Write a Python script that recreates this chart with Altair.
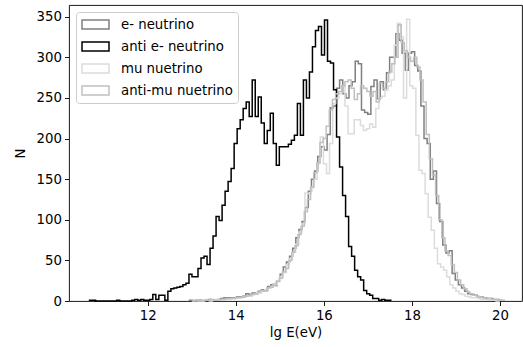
import altair as alt
import numpy as np
import pandas as pd

# ---- data ----
series_names = ["e- neutrino", "anti e- neutrino", "\u00a0mu nuetrino", "\u00a0anti-mu nuetrino"]
series_colors = ["#808080", "#000000", "#dcdcdc", "#c0c0c0"]

# histogram ranges (lg E) and 100-bin counts for each series
e_range = [12.95, 20.05]
e_counts = [1, 0, 1, 1, 0, 1, 2, 1, 1, 2,
            3, 4, 4, 4, 4, 5, 5, 6, 9, 8,
            10, 9, 12, 14, 13, 18, 20, 19, 25, 33,
            42, 48, 55, 65, 78, 88, 98, 115, 135, 150,
            160, 178, 190, 186, 205, 238, 240, 262, 272, 255,
            250, 265, 270, 295, 292, 235, 232, 230, 264, 272,
            249, 270, 260, 281, 300, 300, 329, 321, 305, 284,
            305, 307, 290, 283, 240, 200, 194, 150, 160, 120,
            98, 69, 59, 62, 34, 26, 20, 16, 12, 9,
            8, 7, 5, 5, 4, 3, 3, 2, 2, 1]

anti_e_range = [10.68, 17.52]
anti_e_counts = [1, 1, 0, 0, 0, 0, 0, 0, 0, 1,
                 0, 0, 0, 0, 1, 2, 1, 2, 1, 1,
                 2, 8, 2, 7, 7, 1, 12, 15, 16, 17,
                 18, 20, 22, 33, 30, 30, 40, 53, 55, 45,
                 65, 80, 104, 99, 118, 135, 147, 163, 194, 212,
                 223, 237, 245, 227, 272, 227, 251, 219, 194, 210,
                 231, 194, 167, 190, 190, 190, 193, 198, 204, 243,
                 204, 272, 250, 282, 313, 333, 338, 303, 346, 295,
                 293, 260, 202, 165, 130, 104, 67, 55, 38, 30,
                 26, 13, 9, 7, 3, 3, 1, 2, 1, 1]

mu_range = [13.05, 20.05]
mu_counts = [1, 0, 0, 1, 1, 0, 1, 2, 1, 2,
             2, 2, 3, 3, 4, 4, 5, 6, 6, 8,
             9, 10, 12, 14, 16, 18, 20, 25, 30, 35,
             45, 52, 60, 70, 85, 95, 133, 132, 140, 150,
             170, 202, 169, 157, 194, 243, 250, 255, 265, 240,
             206, 206, 223, 223, 216, 210, 212, 218, 214, 237,
             250, 252, 260, 265, 272, 315, 342, 325, 250, 347,
             265, 262, 204, 161, 157, 132, 103, 87, 65, 46,
             42, 38, 30, 20, 16, 12, 9, 8, 6, 5,
             4, 4, 3, 2, 2, 1, 1, 1, 0, 1]

anti_mu_range = [13.0, 20.1]
anti_mu_counts = [0, 1, 1, 0, 1, 1, 2, 1, 1, 2,
                  2, 3, 3, 3, 4, 4, 5, 6, 7, 8,
                  9, 11, 13, 12, 16, 17, 21, 24, 28, 36,
                  40, 50, 60, 68, 82, 92, 110, 125, 140, 158,
                  170, 195, 200, 215, 235, 248, 255, 258, 265, 270,
                  272, 262, 248, 255, 265, 262, 258, 252, 258, 245,
                  268, 262, 270, 282, 292, 300, 340, 318, 308, 300,
                  295, 300, 288, 272, 245, 205, 175, 155, 130, 100,
                  78, 62, 56, 45, 35, 26, 20, 15, 11, 9,
                  7, 6, 5, 4, 3, 3, 2, 2, 1, 1]

x_ticks = [12, 14, 16, 18, 20]
y_ticks = [0, 50, 100, 150, 200, 250, 300, 350]

hists = [(e_range, e_counts), (anti_e_range, anti_e_counts),
         (mu_range, mu_counts), (anti_mu_range, anti_mu_counts)]


def step_outline(name, rng, counts):
    edges = np.linspace(rng[0], rng[1], len(counts) + 1)
    rows = [{"series": name, "k": 0, "x": edges[0], "y": 0}]
    k = 1
    for i, c in enumerate(counts):
        rows.append({"series": name, "k": k, "x": edges[i], "y": c}); k += 1
        rows.append({"series": name, "k": k, "x": edges[i + 1], "y": c}); k += 1
    rows.append({"series": name, "k": k, "x": edges[-1], "y": 0})
    return pd.DataFrame(rows)


FS = 13.3

legend = alt.Legend(
    title=None, orient="top-left", offset=7, padding=5,
    symbolType="M-1,-0.692H3.154V0.692H-1Z", symbolSize=169,
    symbolStrokeWidth=1.5, symbolFillColor="transparent", symbolOffset=0,
    labelOffset=25, labelFont="DejaVu Sans", labelFontSize=FS, labelColor="black",
    rowPadding=7, fillColor="rgba(255,255,255,0.8)", strokeColor="#cccccc",
    cornerRadius=3, labelLimit=300,
)

xscale = alt.Scale(domain=[10.213, 20.50], nice=False, zero=False)
yscale = alt.Scale(domain=[0, 364.4], nice=False)
cscale = alt.Scale(domain=series_names, range=series_colors)

layers = []
for name, (rng, counts) in zip(series_names, hists):
    df = step_outline(name, rng, counts)
    layers.append(
        alt.Chart(df).mark_line(strokeWidth=1.5, strokeJoin="miter").encode(
            x=alt.X("x:Q", scale=xscale,
                    axis=alt.Axis(values=x_ticks, format="d", title="lg E(eV)")),
            y=alt.Y("y:Q", scale=yscale,
                    axis=alt.Axis(values=y_ticks, format="d", title="N")),
            color=alt.Color("series:N", scale=cscale, legend=legend),
            order=alt.Order("k:Q"),
        )
    )

chart = alt.layer(*layers).properties(
    width=453, height=296,
    autosize=alt.AutoSizeParams(type="none"),
    padding={"left": 69, "top": 5, "right": 1, "bottom": 46},
).configure_view(
    stroke="black", strokeWidth=0.9
).configure_axis(
    grid=False, domain=False, tickColor="black", tickWidth=0.9, tickSize=4.5,
    labelFont="DejaVu Sans", labelFontSize=FS, labelColor="black", labelPadding=3,
    titleFont="DejaVu Sans", titleFontSize=FS, titleFontWeight="normal", titleColor="black",
).configure_axisX(
    titlePadding=4
).configure_axisY(
    titlePadding=9
)

chart.save("out.html", embed_options={"renderer": "svg", "actions": False})
